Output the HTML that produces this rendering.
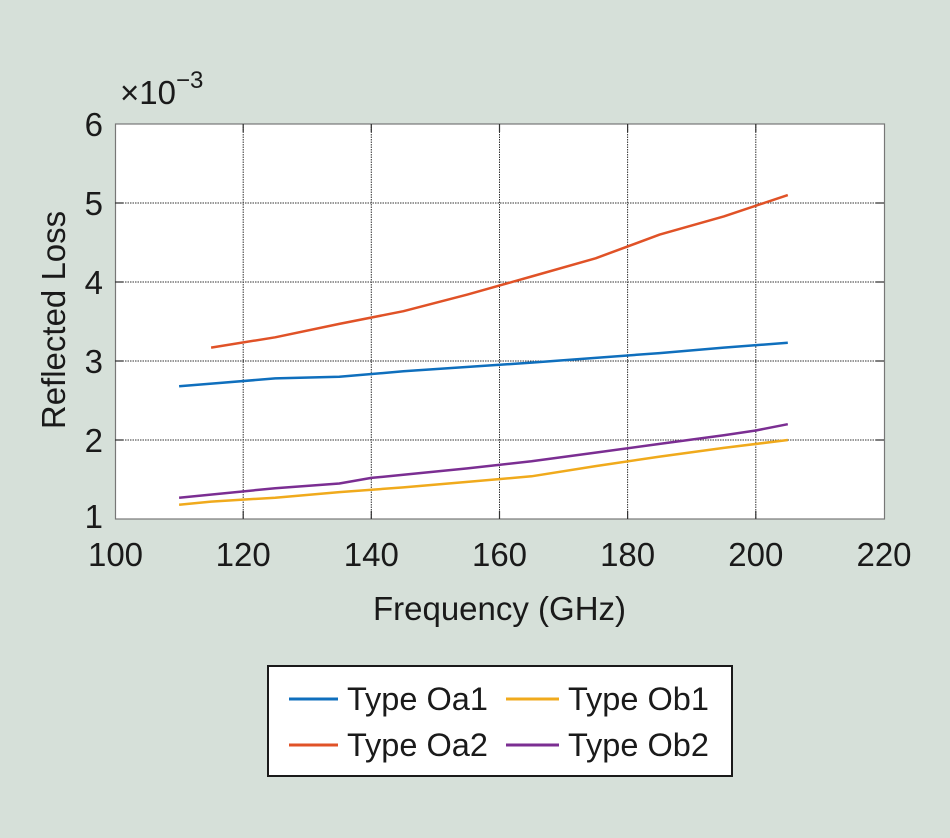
<!DOCTYPE html>
<html><head><meta charset="utf-8"><style>
html,body{margin:0;padding:0;background:#d6e0d9;}
svg{display:block;font-family:"Liberation Sans",Arial,sans-serif;}
</style></head><body>
<svg width="950" height="838" viewBox="0 0 950 838">
<rect width="950" height="838" fill="#d6e0d9"/>
<rect x="115.5" y="124" width="769" height="395" fill="#fff"/>
<g stroke="#333" stroke-width="1" stroke-dasharray="1.5,1">
<line x1="243.2" y1="124" x2="243.2" y2="519"/><line x1="371.3" y1="124" x2="371.3" y2="519"/>
<line x1="499.5" y1="124" x2="499.5" y2="519"/><line x1="627.6" y1="124" x2="627.6" y2="519"/>
<line x1="755.8" y1="124" x2="755.8" y2="519"/>
<line x1="115" y1="203" x2="884" y2="203"/><line x1="115" y1="282" x2="884" y2="282"/>
<line x1="115" y1="361" x2="884" y2="361"/><line x1="115" y1="440" x2="884" y2="440"/>
</g>
<g stroke="#333" stroke-width="1.2">
<rect x="115.5" y="124" width="769" height="395" fill="none" stroke="#777"/>
<path d="M243.2 519v-8M371.3 519v-8M499.5 519v-8M627.6 519v-8M755.8 519v-8M243.2 124v8M371.3 124v8M499.5 124v8M627.6 124v8M755.8 124v8"/>
<path d="M115 203h8M115 282h8M115 361h8M115 440h8M884 203h-8M884 282h-8M884 361h-8M884 440h-8"/>
</g>
<g fill="none" stroke-width="2.5" stroke-linejoin="round">
<polyline stroke="#0f6fbd" points="179.1,386.3 275.2,378.4 339.3,376.8 403.4,371.3 531.5,362.6 659.7,353.1 723.8,347.6 787.8,342.8"/>
<polyline stroke="#e05227" points="211.1,347.6 275.2,337.3 339.3,323.9 403.4,311.2 467.4,294.6 531.5,276.5 595.6,258.3 659.7,234.6 723.8,216.4 787.8,195.1"/>
<polyline stroke="#f0aa1c" points="179.1,504.8 211.1,501.6 275.2,497.7 339.3,492.1 403.4,487.4 467.4,481.9 531.5,476.3 595.6,466.1 659.7,456.6 723.8,447.9 787.8,440"/>
<polyline stroke="#7b2e92" points="179.1,497.7 275.2,488.2 339.3,483.5 371.3,477.9 403.4,474.8 467.4,468.4 531.5,461.3 595.6,452.6 659.7,443.9 723.8,435.3 755.8,430.5 787.8,424.2"/>
</g>
<g font-size="33" fill="#1a1a1a">
<g text-anchor="end"><text x="103" y="136">6</text><text x="103" y="215">5</text><text x="103" y="294">4</text><text x="103" y="373">3</text><text x="103" y="452">2</text><text x="103" y="528">1</text></g>
<g text-anchor="middle"><text x="115.5" y="566">100</text><text x="243.2" y="566">120</text><text x="371.3" y="566">140</text><text x="499.5" y="566">160</text><text x="627.6" y="566">180</text><text x="755.8" y="566">200</text><text x="884" y="566">220</text></g>
<text x="499.5" y="620" text-anchor="middle">Frequency (GHz)</text>
<text transform="translate(65,320) rotate(-90)" text-anchor="middle">Reflected Loss</text>
<text x="120" y="104">×10<tspan font-size="24" dy="-16">−3</tspan></text>
</g>
<rect x="268" y="666" width="464" height="110" fill="#fff" stroke="#1a1a1a" stroke-width="2"/>
<g stroke-width="3">
<line x1="289" y1="699" x2="338" y2="699" stroke="#0f6fbd"/>
<line x1="289" y1="745" x2="338" y2="745" stroke="#e05227"/>
<line x1="506" y1="699" x2="559" y2="699" stroke="#f0aa1c"/>
<line x1="506" y1="745" x2="559" y2="745" stroke="#7b2e92"/>
</g>
<g font-size="32.5" fill="#1a1a1a">
<text x="347" y="710">Type Oa1</text><text x="347" y="756">Type Oa2</text>
<text x="568" y="710">Type Ob1</text><text x="568" y="756">Type Ob2</text>
</g>
</svg>
</body></html>
